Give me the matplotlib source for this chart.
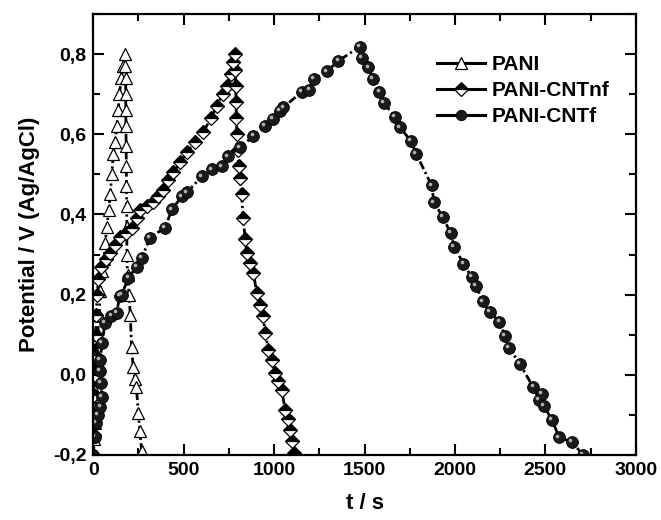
import matplotlib
matplotlib.use("Agg")
import matplotlib.pyplot as plt
from matplotlib.ticker import MultipleLocator, FuncFormatter
from matplotlib.lines import Line2D
import matplotlib.transforms as mtransforms

plt.rcParams['font.family'] = ['Liberation Sans', 'DejaVu Sans']
plt.rcParams['font.weight'] = 'bold'

# === data ===
pani_t = [0, 5, 8, 10, 12, 15, 20, 25, 33, 40, 50, 60, 66, 76, 85, 94, 103, 111, 120, 131, 138, 145, 155, 165, 177,
          178, 179, 180, 180, 181, 182, 183, 184, 185, 186, 186, 190, 198, 205, 212, 221, 230, 239, 249, 258, 268]
pani_v = [-0.2, -0.16, -0.12, -0.08, -0.04, 0.0, 0.05, 0.1, 0.15, 0.21, 0.26, 0.29, 0.33, 0.37, 0.41, 0.45, 0.5, 0.55,
          0.58, 0.62, 0.66, 0.7, 0.74, 0.77, 0.8,
          0.77, 0.74, 0.7, 0.66, 0.62, 0.57, 0.52, 0.47, 0.42, 0.37, 0.3, 0.25, 0.2, 0.15, 0.07, 0.02, -0.01, -0.03,
          -0.095, -0.14, -0.19]

nf_t = [0, 3, 5, 7, 9, 11, 14, 17, 22, 29, 45, 70, 94, 120, 149, 180, 213, 240, 260, 300, 332, 360, 387, 415, 442,
        480, 518, 560, 608, 650, 683, 715, 739, 760, 774, 785,
        786, 788, 790, 791, 794, 798, 805, 812, 820, 829, 840, 849, 867, 886, 904, 922, 941, 950, 969, 987, 1006,
        1024, 1042, 1061, 1075, 1088, 1100, 1112]
nf_v = [-0.2, -0.15, -0.1, -0.05, 0.0, 0.05, 0.1, 0.15, 0.2, 0.24, 0.27, 0.29, 0.305, 0.325, 0.345, 0.355, 0.367,
        0.39, 0.412, 0.42, 0.43, 0.445, 0.46, 0.485, 0.505, 0.53, 0.555, 0.58, 0.605, 0.64, 0.67, 0.70, 0.72, 0.75,
        0.78, 0.8,
        0.76, 0.72, 0.68, 0.64, 0.6, 0.56, 0.52, 0.49, 0.45, 0.39, 0.34, 0.304, 0.28, 0.254, 0.204, 0.175, 0.146,
        0.105, 0.0625, 0.0375, 0.005, -0.015, -0.0375, -0.0875, -0.11, -0.1375, -0.165, -0.195]

f_t = [0, 8, 15, 28, 40, 48, 42, 36, 38, 50, 65, 101, 129, 147, 158, 195, 241, 269, 315, 398, 435, 490, 518, 600,
       656, 711, 746, 812, 886, 950, 995, 1033, 1051, 1153, 1195, 1221, 1291, 1355, 1475,
       1484, 1521, 1545, 1582, 1608, 1668, 1696, 1757, 1785, 1871, 1884, 1932, 1976, 1995, 2046, 2092, 2116, 2153,
       2193, 2245, 2276, 2300, 2359, 2433, 2466, 2479, 2492, 2536, 2576, 2645, 2709]
f_v = [-0.2, -0.155, -0.12, -0.1, -0.08, -0.055, -0.02, 0.01, 0.0375, 0.08, 0.13, 0.146, 0.155, 0.196, 0.2,
       0.2425, 0.27, 0.2925, 0.3425, 0.3675, 0.4125, 0.445, 0.455, 0.495, 0.5125, 0.52, 0.545, 0.5675, 0.596,
       0.62, 0.6375, 0.6575, 0.667, 0.706, 0.711, 0.7375, 0.757, 0.783, 0.819,
       0.79, 0.767, 0.739, 0.706, 0.6775, 0.644, 0.617, 0.583, 0.552, 0.4725, 0.43, 0.394, 0.354, 0.32, 0.2775,
       0.244, 0.2225, 0.183, 0.156, 0.133, 0.0975, 0.067, 0.027, -0.031, -0.0625, -0.0475, -0.0775, -0.1125,
       -0.156, -0.167, -0.2]

labels = ['PANI', 'PANI-CNTnf', 'PANI-CNTf']

fig = plt.figure(figsize=(6.61, 5.2), dpi=100)
ax = fig.add_axes([0.141, 0.125, 0.821, 0.848])

ls = (0, (3, 1.2, 0.8, 1.2))
lw = 2.0
pani_style = dict(marker='^', ms=9, mfc='white', mec='black', mew=0.9)
nf_style = dict(marker='D', ms=7.5, fillstyle='top', mfc='black', mfcalt='white', mec='black', mew=0.9)
f_style = dict(marker='o', ms=8.5, mfc='#1a1a1a', mec='black', mew=0.6)

ax.plot(pani_t, pani_v, linestyle=ls, lw=lw, color='black', **pani_style)
ax.plot(nf_t, nf_v, linestyle=ls, lw=lw, color='black', **nf_style)
ax.plot(f_t, f_v, linestyle=ls, lw=lw, color='black', **f_style)
# small highlight on the spheres
shift = mtransforms.offset_copy(ax.transData, fig=fig, x=-1.3, y=1.3, units='points')
ax.plot(f_t, f_v, linestyle='none', marker='o', ms=2.6, mfc='#b0b0b0', mec='none', transform=shift)

ax.set_xlim(0, 3000)
ax.set_ylim(-0.2, 0.9)
ax.xaxis.set_major_locator(MultipleLocator(500))
ax.xaxis.set_minor_locator(MultipleLocator(250))
ax.yaxis.set_major_locator(MultipleLocator(0.2))
ax.yaxis.set_minor_locator(MultipleLocator(0.1))
ax.yaxis.set_major_formatter(FuncFormatter(lambda v, p: f"{v:.1f}".replace('.', ',').replace('-0,0', '0,0')))

ax.tick_params(which='both', direction='in', top=True, right=True, width=1.5, labelsize=14, pad=5)
ax.tick_params(which='major', length=8)
ax.tick_params(which='minor', length=5)
for lab in ax.get_xticklabels() + ax.get_yticklabels():
    lab.set_fontweight('bold')
for s in ax.spines.values():
    s.set_linewidth(1.6)

ax.set_xlabel('t / s', fontsize=16, fontweight='bold', labelpad=10)
ax.set_ylabel('Potential / V (Ag/AgCl)', fontsize=16, fontweight='bold', labelpad=9)

# legend handles drawn with solid line segments like the reference
handles = [Line2D([], [], color='black', lw=2.2, ls='-', **st) for st in (pani_style, nf_style, f_style)]
handles[0].set_markersize(8)
handles[1].set_markersize(7)
handles[2].set_markersize(7.5)
ax.legend(handles, labels, loc='upper right', bbox_to_anchor=(0.975, 0.935), frameon=False, handlelength=2.3,
          handletextpad=0.35, labelspacing=0.33, borderaxespad=0.2, prop={'weight': 'bold', 'size': 15})

plt.savefig('out.png', dpi=100)
